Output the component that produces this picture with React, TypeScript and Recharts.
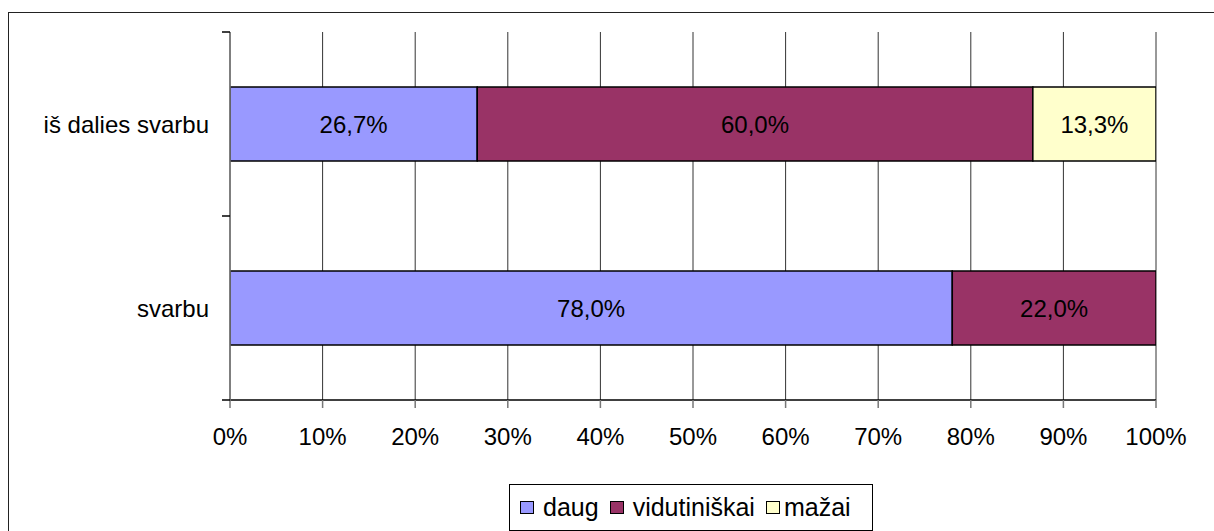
import React from 'react';
import { BarChart, Bar, XAxis, YAxis, CartesianGrid, Legend, LabelList } from 'recharts';

const categories = ['iš dalies svarbu', 'svarbu'];
const daug = [26.7, 78.0];
const vidutiniskai = [60.0, 22.0];
const mazai = [13.3, 0];
const xTicks = [0, 10, 20, 30, 40, 50, 60, 70, 80, 90, 100];
const seriesNames = ['daug', 'vidutiniškai', 'mažai'];
const seriesKeys = ['daug', 'vid', 'maz'];
const seriesColors = ['#9999FF', '#993366', '#FFFFCC'];

const data = categories.map((c, i) => ({
  name: c,
  daug: daug[i],
  vid: vidutiniskai[i],
  maz: mazai[i],
}));

const FONT = '"Liberation Sans", Arial, sans-serif';
const Y_TICK_SIZE = 8;
const Y_TICK_MARGIN = 13;

const fmtLabel = (v: any) => {
  const n = Number(v);
  if (!n) return '';
  return n.toFixed(1).replace('.', ',') + '%';
};

const CategoryTick = (props: any) => {
  const { x, y, payload } = props;
  const axisX = x + Y_TICK_SIZE + Y_TICK_MARGIN;
  const off = payload && payload.offset ? payload.offset : 0;
  const first = payload && payload.index === 0;
  return (
    <g>
      {first && (
        <line x1={axisX - Y_TICK_SIZE} x2={axisX} y1={y - off} y2={y - off} stroke="#000" strokeWidth={1.5} />
      )}
      <line x1={axisX - Y_TICK_SIZE} x2={axisX} y1={y + off} y2={y + off} stroke="#000" strokeWidth={1.5} />
      <text x={x} y={y} dy="0.355em" textAnchor="end" fill="#000" fontSize={24} fontFamily={FONT}>
        {payload.value}
      </text>
    </g>
  );
};

const renderLegend = (props: any) => {
  const payload = props.payload || [];
  const ordered = seriesNames
    .map((n) => payload.find((p: any) => p.value === n))
    .filter(Boolean);
  return (
    <div
      style={{
        boxSizing: 'border-box',
        width: 364,
        height: 47,
        border: '1.5px solid #000',
        background: '#fff',
        display: 'flex',
        alignItems: 'center',
        paddingLeft: 10,
        fontFamily: FONT,
        fontSize: 25,
        color: '#000',
      }}
    >
      {ordered.map((entry: any, i: number) => (
        <span key={i} style={{ display: 'flex', alignItems: 'center', marginRight: 11 }}>
          <span
            style={{
              display: 'inline-block',
              boxSizing: 'border-box',
              width: 14,
              height: 13,
              border: '1.5px solid #000',
              background: entry.color,
              marginRight: i === 2 ? 4 : 9,
            }}
          />
          <span>{entry.value}</span>
        </span>
      ))}
    </div>
  );
};

export default function App() {
  return (
    <div style={{ position: 'fixed', left: 0, top: 0, width: 1214, height: 531, overflow: 'hidden', background: '#fff' }}>
      <div
        style={{
          position: 'absolute',
          left: 8,
          top: 12,
          width: 1300,
          height: 600,
          borderTop: '1.5px solid #222',
          borderLeft: '1.5px solid #222',
        }}
      />
      <div style={{ position: 'absolute', left: 0, top: 0 }}>
        <BarChart
          width={1214}
          height={531}
          data={data}
          layout="vertical"
          margin={{ top: 32, right: 58, bottom: 91, left: 0 }}
          style={{ fontFamily: FONT }}
        >
          <CartesianGrid horizontal={false} vertical={true} stroke="#333" strokeWidth={1} />
          <XAxis
            type="number"
            domain={[0, 100]}
            ticks={xTicks}
            interval={0}
            tickFormatter={(v: number) => `${v}%`}
            height={40}
            tickSize={8}
            tickMargin={20}
            axisLine={{ stroke: '#000', strokeWidth: 1.5 }}
            tickLine={{ stroke: '#777', strokeWidth: 1.5 }}
            tick={{ fill: '#000', fontSize: 24, fontFamily: FONT }}
            allowDataOverflow
          />
          <YAxis
            type="category"
            dataKey="name"
            width={230}
            interval={0}
            axisLine={{ stroke: '#777', strokeWidth: 1.5 }}
            tickLine={false}
            tickSize={Y_TICK_SIZE}
            tickMargin={Y_TICK_MARGIN}
            tick={<CategoryTick />}
          />
          {seriesKeys.map((k, i) => (
            <Bar
              key={k}
              dataKey={k}
              name={seriesNames[i]}
              stackId="a"
              fill={seriesColors[i]}
              stroke="#000"
              strokeWidth={1.5}
              barSize={74}
              isAnimationActive={false}
            >
              <LabelList
                dataKey={k}
                position="center"
                formatter={fmtLabel}
                fill="#000"
                fontSize={24}
                fontFamily={FONT}
              />
            </Bar>
          ))}
          <Legend
            layout="horizontal"
            verticalAlign="middle"
            align="center"
            itemSorter={null as any}
            content={renderLegend}
            wrapperStyle={{ position: 'absolute', left: 509, top: 484, width: 364, height: 47 }}
          />
        </BarChart>
      </div>
    </div>
  );
}
